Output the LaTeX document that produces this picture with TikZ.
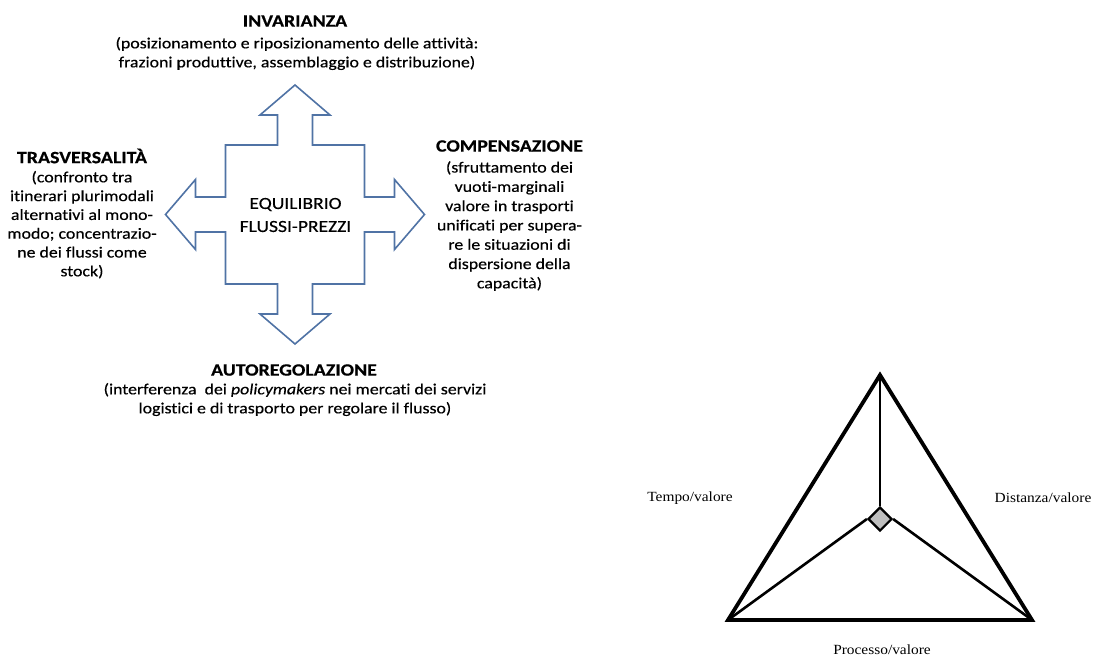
\documentclass[tikz,border=0pt]{standalone}
\usepackage{fontspec}
\setmainfont{Carlito}[FakeStretch=1.15, FakeBold=0.4, Ligatures=NoCommon]
\newfontfamily\tnr{Liberation Serif}[FakeStretch=1.1]
\usetikzlibrary{shapes.geometric}
\definecolor{arrowblue}{RGB}{80,115,165}
\tikzset{
  ttl/.style={font=\fontsize{17.3}{20}\selectfont\bfseries, inner sep=0pt, text=black},
  body/.style={font=\fontsize{15.5}{19}\selectfont, align=center, inner sep=0pt, text=black},
  ctext/.style={font=\fontsize{17}{23}\selectfont, align=center, inner sep=0pt, text=black},
  lbl/.style={font=\tnr\fontsize{14}{16}\selectfont, inner sep=0pt},
  crossarrow/.style={draw=arrowblue, line width=1.6pt, line join=miter, fill=white},
  tri/.style={line width=3.8pt, line join=miter, miter limit=10},
  spoke/.style={line width=2.6pt},
  hub/.style={diamond, draw, line width=2.2pt, fill=black!25, minimum size=24pt, inner sep=0pt}
}
\begin{document}
\begin{tikzpicture}[x=1pt,y=-1pt]
\useasboundingbox (0,0) rectangle (1094,657);
% cross arrow
\draw[crossarrow, shift={(295,214.5)}]
 (0,-129.5) -- (35,-99.5) -- (17.5,-99.5) -- (17.5,-69.5) -- (69.5,-69.5) -- (69.5,-17.5)
 -- (99.5,-17.5) -- (99.5,-35) -- (129.5,0) -- (99.5,35) -- (99.5,17.5) -- (69.5,17.5)
 -- (69.5,69.5) -- (17.5,69.5) -- (17.5,99.5) -- (35,99.5) -- (0,129.5) -- (-35,99.5)
 -- (-17.5,99.5) -- (-17.5,69.5) -- (-69.5,69.5) -- (-69.5,17.5) -- (-99.5,17.5)
 -- (-99.5,35) -- (-129.5,0) -- (-99.5,-35) -- (-99.5,-17.5) -- (-69.5,-17.5)
 -- (-69.5,-69.5) -- (-17.5,-69.5) -- (-17.5,-99.5) -- (-35,-99.5) -- cycle;
\node[ctext] (eq) at (295.5,215) {EQUILIBRIO\\FLUSSI-PREZZI};
% top
\node[ttl] (invT) at (295,21) {INVARIANZA};
\node[body] (invB) at (297,53.5) {(posizionamento e riposizionamento delle attività:\\frazioni produttive, assemblaggio e distribuzione)};
% left
\node[ttl] (trT) at (82,156) {TRASVERSALITÀ};
\node[body, font=\fontsize{15.5}{18.8}\selectfont] (trB) at (82,224.7) {(confronto tra\\itinerari plurimodali\\alternativi al mono-\\modo; concentrazio-\\ne dei flussi come\\stock)};
% right
\node[ttl] (coT) at (509.5,146) {COMPENSAZIONE};
\node[body, font=\fontsize{15.5}{19.3}\selectfont] (coB) at (509.5,226) {(sfruttamento dei\\vuoti-marginali\\valore in trasporti\\unificati per supera-\\re le situazioni di\\dispersione della\\capacità)};
% bottom
\node[ttl] (auT) at (294,370) {AUTOREGOLAZIONE};
\node[body] (auB) at (295,399.5) {(interferenza\ \ dei \textit{policymakers} nei mercati dei servizi\\logistici e di trasporto per regolare il flusso)};
% triangle
\coordinate (T) at (880,375);
\coordinate (BL) at (728,620);
\coordinate (BR) at (1032,620);
\node[hub] (D) at (880,519) {};
\draw[spoke] (T) -- (D.north);
\draw[spoke] (BL) -- (D.west);
\draw[spoke] (BR) -- (D.east);
\draw[tri] (T) -- (BR) -- (BL) -- cycle;
\node[lbl] (tv) at (690,498) {Tempo/valore};
\node[lbl] (dv) at (1043,498) {Distanza/valore};
\node[lbl] (pv) at (882,650) {Processo/valore};
\end{tikzpicture}
\end{document}
